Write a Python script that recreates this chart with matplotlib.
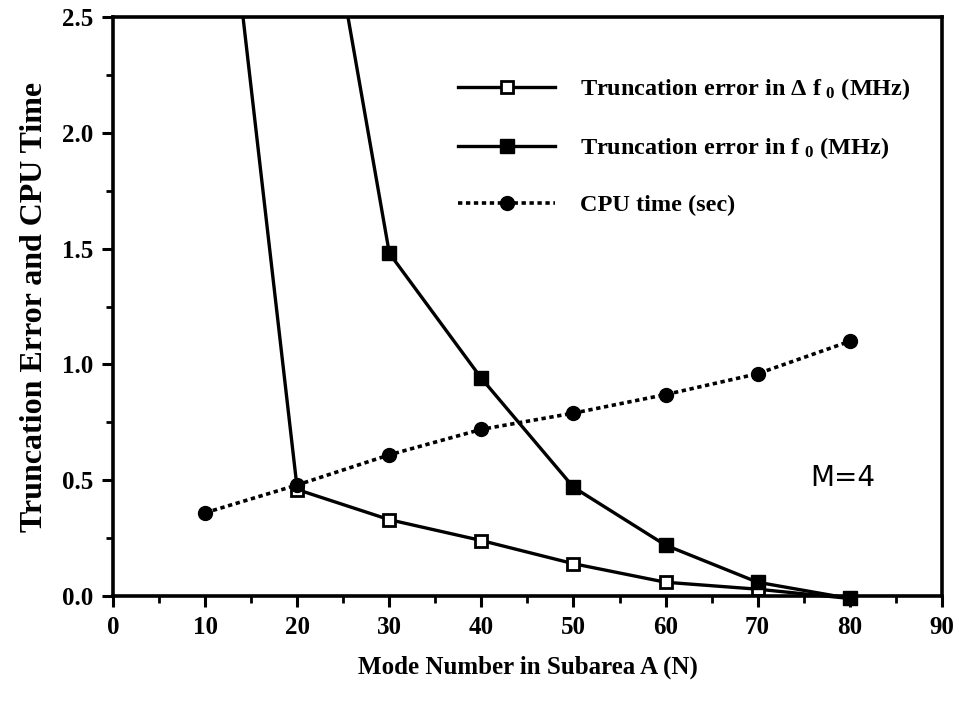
import numpy as np
import matplotlib.pyplot as plt
from matplotlib.ticker import MultipleLocator
from matplotlib.transforms import Bbox, TransformedBbox

# datos
modes = [10, 20, 30, 40, 50, 60, 70, 80]
err_delta_f0 = [3.92, 0.46, 0.33, 0.24, 0.14, 0.06, 0.03, -0.01]
modes_f0 = [20, 30, 40, 50, 60, 70, 80]
err_f0 = [3.75, 1.48, 0.94, 0.47, 0.22, 0.06, -0.01]
cpu_time = [0.36, 0.48, 0.61, 0.72, 0.79, 0.87, 0.96, 1.10]

x_ticks = [0, 10, 20, 30, 40, 50, 60, 70, 80, 90]
y_ticks = [0.0, 0.5, 1.0, 1.5, 2.0, 2.5]

plt.rcParams['font.family'] = ['Liberation Serif', 'DejaVu Serif']
plt.rcParams['mathtext.default'] = 'regular'

fig = plt.figure(figsize=(9.59, 7.08), dpi=100)
ax = fig.add_axes([0.118, 0.158, 0.864, 0.818])

l1, = ax.plot(modes, err_delta_f0, color='black', lw=2.4, marker='s', ms=9,
              mfc='white', mec='black', mew=2,
              label=r'Truncation error in $\Delta$ f$_{\ 0}$ (MHz)')
l2, = ax.plot(modes_f0, err_f0, color='black', lw=2.4, marker='s', ms=10,
              mfc='black', mec='black',
              label=r'Truncation error in f$_{\ 0}$ (MHz)')
l3, = ax.plot(modes, cpu_time, color='black', lw=2.6, ls=(0, (1.2, 1.0)),
              marker='o', ms=10, mfc='black', mec='black',
              label='CPU time (sec)')

# recorte: arriba en el eje, abajo un poco mas para ver los marcadores en 80
caja = TransformedBbox(Bbox([[0, -0.03], [1, 1]]), ax.transAxes)
for l in (l1, l2, l3):
    l.set_clip_box(caja)

ax.set_xlim(0, 90)
ax.set_ylim(0, 2.5)
ax.set_xticks(x_ticks)
ax.set_yticks(y_ticks)
ax.set_yticklabels(['%.1f' % v for v in y_ticks])
ax.xaxis.set_minor_locator(MultipleLocator(5))
ax.yaxis.set_minor_locator(MultipleLocator(0.25))
ax.tick_params(axis='both', which='major', direction='out', length=8, width=2.2,
               labelsize=18, pad=6)
ax.tick_params(axis='both', which='minor', direction='out', length=5, width=2)
for lab in ax.get_xticklabels() + ax.get_yticklabels():
    lab.set_fontweight('bold')
for sp in ax.spines.values():
    sp.set_linewidth(2.6)

ax.set_xlabel('Mode Number in Subarea A (N)', fontsize=18, fontweight='bold', labelpad=12)
ax.set_ylabel('Truncation Error and CPU Time', fontsize=23, fontweight='bold', labelpad=10)

ax.text(79.3, 0.51, 'M=4', fontsize=20, family='DejaVu Sans', ha='center', va='center')

leg = ax.legend(loc='upper left', bbox_to_anchor=(0.39, 0.935), frameon=False,
                prop={'size': 17.5, 'weight': 'bold'},
                handlelength=4.0, handletextpad=1.0, labelspacing=1.35)

fig.savefig('out.png', dpi=100)
